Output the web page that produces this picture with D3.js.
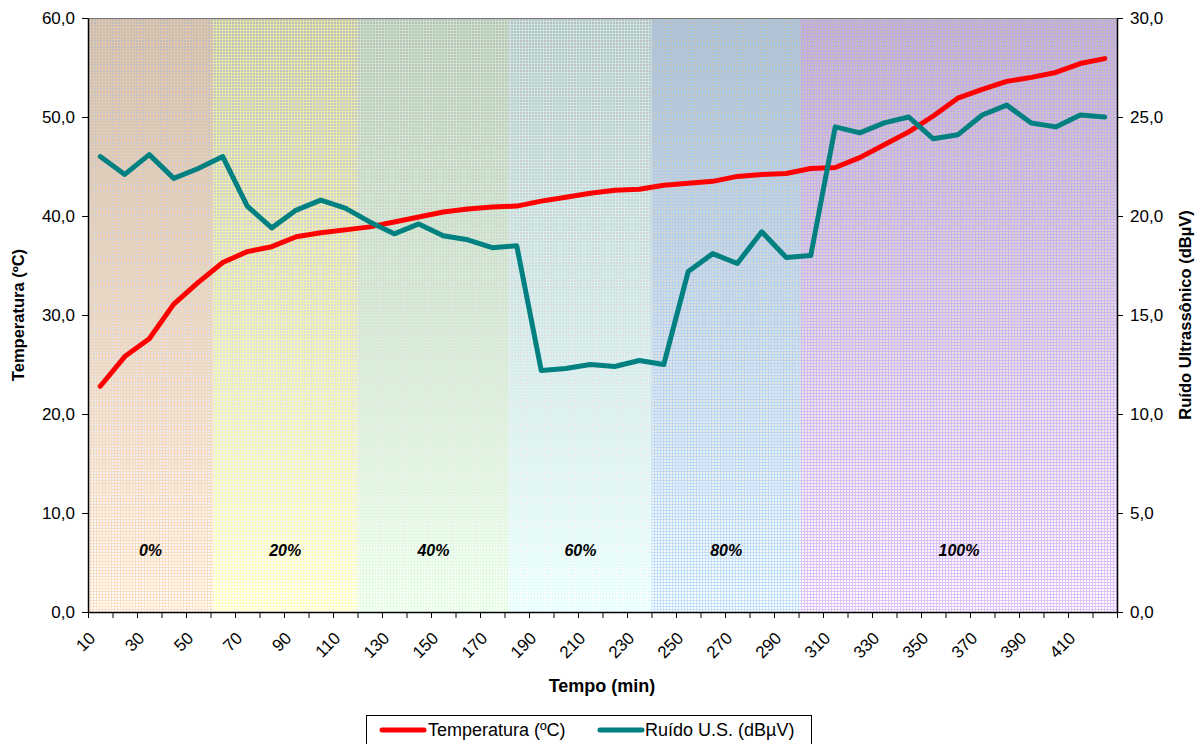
<!DOCTYPE html>
<html>
<head>
<meta charset="utf-8">
<script src="https://cdn.jsdelivr.net/npm/d3@7"></script>
<style>
  html, body { margin: 0; padding: 0; background: #fff; }
  svg { display: block; font-family: "Liberation Sans", Arial, sans-serif; }
</style>
</head>
<body>
<svg id="chart" width="1201" height="744"></svg>
<script>
// ---- data ----
const minutes = [10,20,30,40,50,60,70,80,90,100,110,120,130,140,150,160,170,180,190,200,
                 210,220,230,240,250,260,270,280,290,300,310,320,330,340,350,360,370,380,390,400,410,420];
const temperature = [22.8,25.8,27.6,31.1,33.3,35.3,36.4,36.9,37.9,38.3,38.6,38.9,39.4,39.9,40.4,40.7,40.9,41.0,41.5,41.9,
                     42.3,42.6,42.7,43.1,43.3,43.5,44.0,44.2,44.3,44.8,44.9,45.9,47.2,48.5,50.1,51.9,52.8,53.6,54.0,54.5,55.4,55.9];
const noise = [23.0,22.1,23.1,21.9,22.4,23.0,20.5,19.4,20.3,20.8,20.4,19.7,19.1,19.6,19.0,18.8,18.4,18.5,12.2,12.3,
               12.5,12.4,12.7,12.5,17.2,18.1,17.6,19.2,17.9,18.0,24.5,24.2,24.7,25.0,23.9,24.1,25.1,25.6,24.7,24.5,25.1,25.0];
const leftTicks = [0,10,20,30,40,50,60];
const rightTicks = [0,5,10,15,20,25,30];
const xLabels = [10,30,50,70,90,110,130,150,170,190,210,230,250,270,290,310,330,350,370,390,410];
const bandLabels = ["0%","20%","40%","60%","80%","100%"];
const bandEdges = [5,56,115,177,235,296,425];   // in minutes
const bandColors = ["#FFCC99","#FFFF99","#CCFFCC","#CCFFFF","#99CCFF","#CC99FF"];
const seriesNames = ["Temperatura (ºC)","Ruído U.S. (dBµV)"];
const seriesColors = ["#FF0000","#008080"];

// ---- layout ----
const L = 88, R = 1117, T = 18, B = 612;
const svg = d3.select("#chart");
const fmt = d => d.toFixed(1).replace(".", ",");

const xBand = d3.scaleBand().domain(minutes).range([L, R]).padding(0);
const xLin = d3.scaleLinear().domain([5, 425]).range([L, R]);
const yL = d3.scaleLinear().domain([0, 60]).range([B, T]);
const yR = d3.scaleLinear().domain([0, 30]).range([B, T]);
const cx = m => xBand(m) + xBand.bandwidth() / 2;

// ---- defs: gradient + patterns ----
const defs = svg.append("defs");
const grad = defs.append("linearGradient").attr("id", "bg").attr("x1", 0).attr("y1", 0).attr("x2", 0).attr("y2", 1);
grad.append("stop").attr("offset", "0%").attr("stop-color", "#bcbcbc");
grad.append("stop").attr("offset", "100%").attr("stop-color", "#ffffff");
bandColors.forEach((c, i) => {
  const p = defs.append("pattern").attr("id", "pat" + i).attr("patternUnits", "userSpaceOnUse")
    .attr("x", 0).attr("y", 0).attr("width", 3).attr("height", 3);
  p.append("rect").attr("x", 0).attr("y", 0).attr("width", 3).attr("height", 1).attr("fill", c).attr("fill-opacity", 0.6);
  p.append("rect").attr("x", 0).attr("y", 1).attr("width", 1).attr("height", 2).attr("fill", c).attr("fill-opacity", 0.6);
});

// ---- background bands ----
const bands = bandLabels.map((lab, i) => ({lab, i, x0: bandEdges[i], x1: bandEdges[i + 1]}));
svg.append("g").selectAll("rect.base").data(bands).join("rect")
  .attr("x", d => xLin(d.x0)).attr("y", T).attr("width", d => xLin(d.x1) - xLin(d.x0)).attr("height", B - T)
  .attr("fill", "url(#bg)");
svg.append("g").selectAll("rect.pat").data(bands).join("rect")
  .attr("x", d => xLin(d.x0)).attr("y", T).attr("width", d => xLin(d.x1) - xLin(d.x0)).attr("height", B - T)
  .attr("fill", d => `url(#pat${d.i})`);

// top border
svg.append("line").attr("x1", L).attr("x2", R).attr("y1", T + 0.5).attr("y2", T + 0.5)
  .attr("stroke", "#777").attr("stroke-width", 1);

// band labels
svg.append("g").selectAll("text").data(bands).join("text")
  .attr("x", d => (xLin(d.x0) + xLin(d.x1)) / 2).attr("y", 556)
  .attr("text-anchor", "middle").attr("font-size", 16).attr("font-weight", "bold").attr("font-style", "italic")
  .attr("fill", "#000").text(d => d.lab);

// ---- lines ----
const lineT = d3.line().x((d, i) => cx(minutes[i])).y(d => yL(d));
const lineN = d3.line().x((d, i) => cx(minutes[i])).y(d => yR(d));
svg.append("path").datum(temperature).attr("d", lineT).attr("fill", "none")
  .attr("stroke", seriesColors[0]).attr("stroke-width", 5).attr("stroke-linejoin", "round").attr("stroke-linecap", "round");
svg.append("path").datum(noise).attr("d", lineN).attr("fill", "none")
  .attr("stroke", seriesColors[1]).attr("stroke-width", 5).attr("stroke-linejoin", "round").attr("stroke-linecap", "round");

// ---- axes ----
const fs = 17;
const gL = svg.append("g").attr("transform", `translate(${L},0)`)
  .call(d3.axisLeft(yL).tickValues(leftTicks).tickFormat(fmt).tickSize(6).tickSizeOuter(0).tickPadding(7));
const gR = svg.append("g").attr("transform", `translate(${R},0)`)
  .call(d3.axisRight(yR).tickValues(rightTicks).tickFormat(fmt).tickSize(6).tickSizeOuter(0).tickPadding(7));
const gX = svg.append("g").attr("transform", `translate(0,${B})`)
  .call(d3.axisBottom(xLin).tickValues(d3.range(5, 426, 10)).tickFormat("").tickSize(6).tickSizeOuter(0));
[gL, gR, gX].forEach(g => {
  g.selectAll("text").attr("font-size", fs).attr("font-family", "Liberation Sans, Arial, sans-serif").attr("fill", "#000");
  g.select(".domain").attr("stroke", "#000").attr("stroke-width", 1.5);
  g.selectAll(".tick line").attr("stroke", "#000");
});

// x labels rotated
svg.append("g").selectAll("text").data(xLabels).join("text")
  .attr("transform", d => `translate(${cx(d) - 8},${635}) rotate(-45)`)
  .attr("text-anchor", "end").attr("dy", "0.35em")
  .attr("font-size", fs).attr("fill", "#000").text(d => d);

// axis titles
svg.append("text").attr("x", 602).attr("y", 692).attr("text-anchor", "middle")
  .attr("font-size", 18).attr("font-weight", "bold").text("Tempo (min)");
svg.append("text").attr("transform", `translate(24,315) rotate(-90)`).attr("text-anchor", "middle")
  .attr("font-size", 16.5).attr("font-weight", "bold").text("Temperatura (ºC)");
svg.append("text").attr("transform", `translate(1191,315) rotate(-90)`).attr("text-anchor", "middle")
  .attr("font-size", 16.5).attr("font-weight", "bold").text("Ruído Ultrassônico (dBµV)");

// ---- legend ----
const lg = svg.append("g");
lg.append("rect").attr("x", 366.5).attr("y", 715.5).attr("width", 445).attr("height", 40)
  .attr("fill", "#fff").attr("stroke", "#000").attr("stroke-width", 1);
const legendItems = [{x: 382, tx: 428}, {x: 600, tx: 645}];
legendItems.forEach((it, i) => {
  lg.append("line").attr("x1", it.x).attr("x2", it.x + 42).attr("y1", 730).attr("y2", 730)
    .attr("stroke", seriesColors[i]).attr("stroke-width", 5).attr("stroke-linecap", "round");
  lg.append("text").attr("x", it.tx).attr("y", 736).attr("font-size", 18).text(seriesNames[i]);
});
</script>
</body>
</html>
